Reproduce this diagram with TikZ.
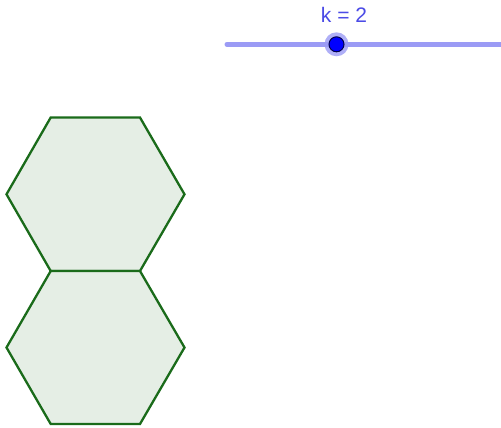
\documentclass[tikz,border=0pt]{standalone}
\usepackage{fontspec}
\setmainfont{Liberation Sans}
\definecolor{hexfill}{HTML}{E5EEE5}
\definecolor{hexline}{HTML}{1A6B1A}
\definecolor{slideline}{HTML}{9B9BF5}
\definecolor{labelcol}{HTML}{4B4BE6}
\tikzset{
  hex/.style={draw=hexline, fill=hexfill, line width=2.3pt, line join=miter},
  sliderline/.style={draw=slideline, line width=5pt, line cap=round},
}
\begin{document}
\begin{tikzpicture}[x=1pt,y=-1pt]
\useasboundingbox (0,0) rectangle (501,428);
% hexagons
\draw[hex] (50.7,117.5) -- (140,117.5) -- (184.5,194.3) -- (140,271) -- (50.7,271) -- (6.5,194.3) -- cycle;
\draw[hex] (50.7,271) -- (140,271) -- (184.5,347.5) -- (140,424) -- (50.7,424) -- (6.5,347.5) -- cycle;
% slider
\coordinate (s1) at (227,44.3);
\coordinate (s2) at (501,44.3);
\draw[sliderline] (s1) -- (s2);
\node[circle, fill=slideline, opacity=0.8, minimum size=24pt, inner sep=0pt] (halo) at (336.5,44.3) {};
\node[circle, fill=blue, draw=black!70!blue, line width=1pt, minimum size=15pt, inner sep=0pt] (knob) at (336.5,44.3) {};
\node[text=labelcol, font=\fontsize{21}{24}\selectfont, anchor=base, inner sep=0pt] (lbl) at (344,22.7) {k = 2};
\end{tikzpicture}
\end{document}
